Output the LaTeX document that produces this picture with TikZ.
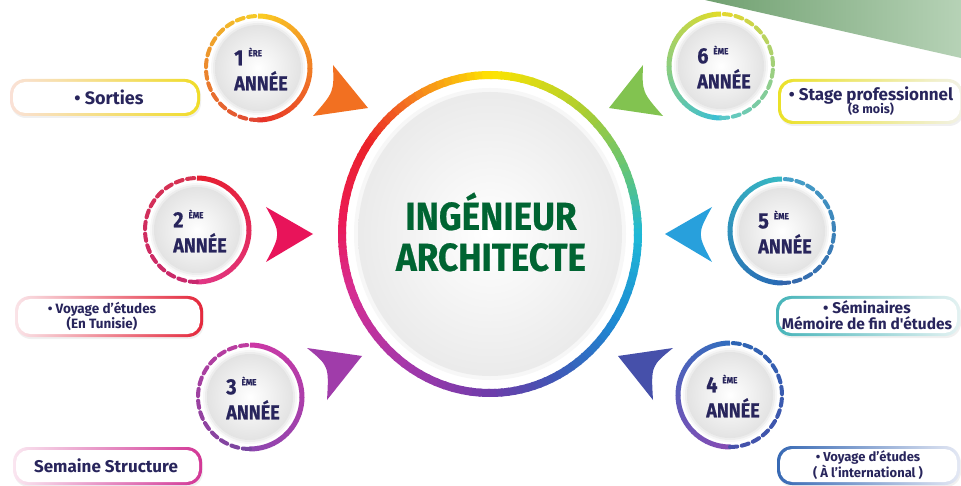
\documentclass[tikz,border=0pt]{standalone}
\usepackage{fontspec}
\setmainfont{Fira Sans}
\newfontfamily\headfont{Fira Sans}[FakeStretch=0.9, BoldFeatures={FakeBold=0.6}]
\newfontfamily\plainfont{Fira Sans}
\usetikzlibrary{calc}
% text colours
\definecolor{navy}{RGB}{40,37,92}
\definecolor{maingreen}{RGB}{0,100,50}
% main ring stops
\definecolor{rY}{RGB}{255,228,0}
\definecolor{rYG}{RGB}{170,205,50}
\definecolor{rG}{RGB}{90,195,130}
\definecolor{rC}{RGB}{30,185,215}
\definecolor{rB}{RGB}{30,135,210}
\definecolor{rI}{RGB}{65,85,180}
\definecolor{rP}{RGB}{110,60,170}
\definecolor{rPM}{RGB}{165,55,170}
\definecolor{rM}{RGB}{215,45,145}
\definecolor{rPK}{RGB}{235,25,85}
\definecolor{rR}{RGB}{235,35,40}
\definecolor{rO}{RGB}{245,130,30}
% year circle colours
\definecolor{oA}{RGB}{250,205,35}\definecolor{oB}{RGB}{230,45,40}
\definecolor{odA}{RGB}{245,200,40}\definecolor{odB}{RGB}{225,70,50}
\definecolor{tA}{RGB}{230,30,45}\definecolor{tB}{RGB}{225,55,135}
\definecolor{tdA}{RGB}{215,50,80}\definecolor{tdB}{RGB}{200,40,110}
\definecolor{hA}{RGB}{205,55,165}\definecolor{hB}{RGB}{140,70,175}
\definecolor{hdA}{RGB}{190,60,160}\definecolor{hdB}{RGB}{120,70,160}
\definecolor{fA}{RGB}{50,110,190}\definecolor{fB}{RGB}{135,75,180}
\definecolor{fdA}{RGB}{45,100,180}\definecolor{fdB}{RGB}{70,80,170}
\definecolor{vA}{RGB}{55,185,195}\definecolor{vB}{RGB}{40,105,180}
\definecolor{vdA}{RGB}{70,160,200}\definecolor{vdB}{RGB}{50,100,170}
\definecolor{sA}{RGB}{225,220,40}\definecolor{sB}{RGB}{55,190,215}
\definecolor{sdA}{RGB}{225,215,50}\definecolor{sdB}{RGB}{90,200,200}
% triangles
\definecolor{triO}{RGB}{242,112,33}
\definecolor{triG}{RGB}{130,195,80}
\definecolor{triPk}{RGB}{232,20,90}
\definecolor{triBl}{RGB}{40,160,220}
\definecolor{triPu}{RGB}{160,60,170}
\definecolor{triIn}{RGB}{70,80,170}
% box borders
\definecolor{bSoL}{RGB}{250,225,215}\definecolor{bSoR}{RGB}{240,220,40}
\definecolor{bStL}{RGB}{235,225,40}\definecolor{bStR}{RGB}{242,242,232}
\definecolor{bTuL}{RGB}{250,228,232}\definecolor{bTuR}{RGB}{228,40,60}
\definecolor{bSeL}{RGB}{70,180,185}\definecolor{bSeR}{RGB}{228,242,242}
\definecolor{bSmL}{RGB}{250,230,240}\definecolor{bSmR}{RGB}{210,55,150}
\definecolor{bInL}{RGB}{55,105,180}\definecolor{bInR}{RGB}{228,232,244}
\definecolor{cornerL}{RGB}{112,160,112}
\definecolor{cornerR}{RGB}{182,210,182}
\tikzset{
  yeartext/.style={align=left, text=navy, font=\headfont\bfseries\fontsize{20}{25}\selectfont, inner sep=0pt},
  boxtext/.style={align=center, text=navy, inner sep=0pt},
  maintext/.style={align=center, text=maingreen, font=\headfont\bfseries\fontsize{39}{41}\selectfont},
}
\begin{document}
\begin{tikzpicture}[x=1pt,y=-1pt]
\useasboundingbox (0,0) rectangle (961,486);
\fill[white] (0,0) rectangle (961,486);
% green corner
\shade[left color=cornerL, right color=cornerR] (705,0) -- (961,0) -- (961,58) -- cycle;

% ---------- central circle ----------
\begin{scope}[shift={(490,234)}, yscale=-1]
  \fill[black!3] (0,0) ellipse [x radius=136, y radius=146];
  \shade[inner color=white, outer color=black!8] (0,0) ellipse [x radius=132, y radius=142];
  \foreach \aa/\ab/\ca/\cb in {90/50/rY/rYG, 50/20/rYG/rG, 20/0/rG/rC, 0/-35/rC/rB,
      -35/-65/rB/rI, -65/-90/rI/rP, -90/-125/rP/rPM, -125/-160/rPM/rM,
      -160/-185/rM/rPK, -185/-215/rPK/rR, -215/-240/rR/rO, -240/-270/rO/rY}{
    \foreach \k in {0,...,9}{
      \pgfmathsetmacro\sa{\aa+(\ab-\aa)*\k/10}
      \pgfmathsetmacro\sb{\aa+(\ab-\aa)*(\k+1)/10-0.8}
      \pgfmathtruncatemacro\pc{\k*10+5}
      \colorlet{segc}{\cb!\pc!\ca}
      \draw[segc, line width=8] (\sa:148 and 159) arc[start angle=\sa, end angle=\sb, x radius=148, y radius=159];
    }
  }
\end{scope}
\node[maintext] (title) at (491,232) {INGÉNIEUR\\ARCHITECTE};

% ---------- triangles ----------
\fill[triO]  (333,65) -- (368,108) -- (313,116) .. controls (334,92) .. (333,65) -- cycle;
\fill[triG]  (643,65) -- (609,108) -- (663,116) .. controls (642,92) .. (643,65) -- cycle;
\fill[triPk] (266,207) -- (313,234) -- (266,262) .. controls (281,234) .. (266,207) -- cycle;
\fill[triBl] (712,207) -- (665,234) -- (712,262) .. controls (697,234) .. (712,207) -- cycle;
\fill[triPu] (307,348) -- (362,356) -- (327,400) .. controls (329,366) .. (307,348) -- cycle;
\fill[triIn] (673,348) -- (618,356) -- (653,400) .. controls (651,366) .. (673,348) -- cycle;

% ---------- year circles ----------
\foreach \nm/\cx/\cy/\s/\ca/\cb/\da/\db/\num/\sup in {
    y1/258/68/1/oA/oB/odA/odB/1/ÈRE,
    y2/197/230/1/tA/tB/tdA/tdB/2/ÈME,
    y3/250/397/1/hA/hB/hdA/hdB/3/ÈME,
    y4/730/395/-1/fA/fB/fdA/fdB/4/ÈME,
    y5/782/231/-1/vA/vB/vdA/vdB/5/ÈME,
    y6/721/66/-1/sA/sB/sdA/sdB/6/ÈME}{
  \begin{scope}[shift={(\cx,\cy)}, yscale=-1]
    \fill[black!3] (0,0) circle[radius=47];
    \fill[black!7] (0,0) circle[radius=45];
    \shade[inner color=white, outer color=black!11] (0,0) circle[radius=43];
    \foreach \k in {0,...,19}{
      \pgfmathsetmacro\sa{90-9*\s*\k}
      \pgfmathsetmacro\sb{90-9*\s*(\k+1)-0.7*\s}
      \pgfmathtruncatemacro\pc{\k*5+2}
      \colorlet{segc}{\cb!\pc!\ca}
      \draw[segc, line width=5] (\sa:52) arc[start angle=\sa, end angle=\sb, radius=52];
    }
    \foreach \k in {0,...,13}{
      \pgfmathsetmacro\sa{90+\s*(3+13*\k)}
      \pgfmathsetmacro\sb{\sa+8*\s}
      \pgfmathtruncatemacro\pc{\k*100/13}
      \colorlet{segc}{\db!\pc!\da}
      \draw[segc, line width=4, line cap=round] (\sa:52) arc[start angle=\sa, end angle=\sb, radius=52];
    }
  \end{scope}
  \node[yeartext] (\nm) at (\cx+3,\cy+1)
    {\fontsize{22}{25}\selectfont\num\hspace{5pt}\raisebox{9pt}{\fontsize{9}{9}\selectfont\sup}\\ANNÉE};
}

% ---------- boxes ----------
\foreach \bx/\by/\ex/\ey/\lc/\rc in {
    10/79/200/116/bSoL/bSoR,
    778/79/963/124/bStL/bStR,
    15/296/203/337/bTuL/bTuR,
    776/296/960/336/bSeL/bSeR,
    13/447/202/485/bSmL/bSmR,
    777/446/960/485/bInL/bInR}{
  \fill[black!6, rounded corners=15] (\bx+1,\by+2) rectangle (\ex+1,\ey+2);
  \shade[left color=\lc, right color=\rc, rounded corners=15] (\bx,\by) rectangle (\ex,\ey);
  \fill[white, rounded corners=12.5] (\bx+3,\by+3) rectangle (\ex-3,\ey-3);
}
\node[boxtext, font=\bfseries\fontsize{18}{20}\selectfont] (sorties) at (109,97) {• Sorties};
\node[boxtext] (stage) at (871,101)
  {{\bfseries\fontsize{17}{18}\selectfont • Stage professionnel}\\[-2pt]{\bfseries\fontsize{12.5}{13}\selectfont (8 mois)}};
\node[boxtext, font=\bfseries\fontsize{13.5}{15}\selectfont] (tunisie) at (102,316) {• Voyage d’études\\(En Tunisie)};
\node[boxtext, font=\bfseries\fontsize{15.5}{16.5}\selectfont] (seminaires) at (867,315) {• Séminaires\\{\plainfont\bfseries Mémoire de fin d'études}};
\node[boxtext, font=\bfseries\fontsize{17}{19}\selectfont] (semaine) at (106,466) {Semaine Structure};
\node[boxtext, font=\bfseries\fontsize{13}{14.5}\selectfont] (international) at (868,465) {• Voyage d’études\\( À l’international )};
\end{tikzpicture}
\end{document}
